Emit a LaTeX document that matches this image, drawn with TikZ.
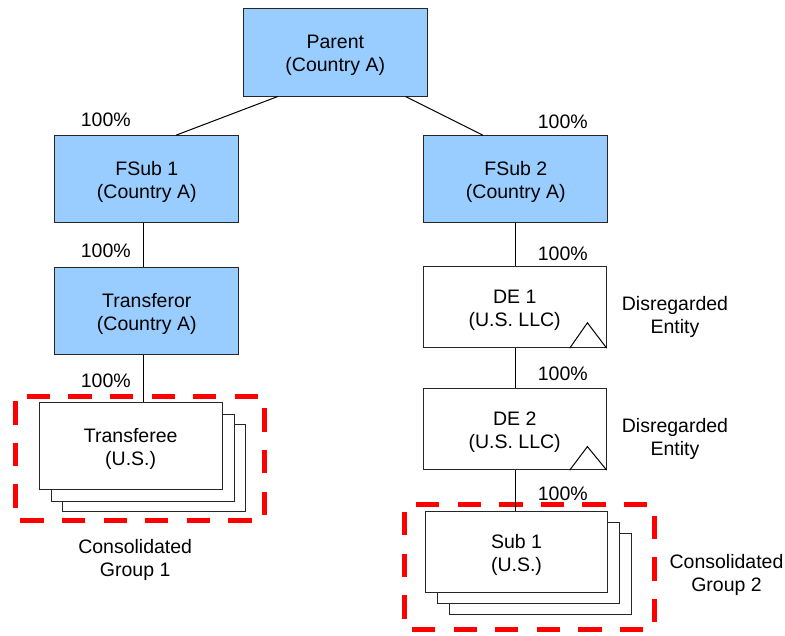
\documentclass[tikz,border=0pt]{standalone}
\usepackage{fontspec}
\setmainfont{Liberation Sans}
\usetikzlibrary{calc}
\definecolor{boxblue}{HTML}{99CCFF}
\newcommand\tstrut{\rule{0pt}{19.2pt}}
\tikzset{
  ent/.style={draw=black!85, line width=1pt, minimum width=184pt, minimum height=87pt, inner sep=0pt, align=center, font=\fontsize{19.5}{23}\selectfont},
  blueent/.style={ent, fill=boxblue},
  whiteent/.style={ent, fill=white},
  deent/.style={whiteent, minimum width=183pt, minimum height=81pt},
  lbl/.style={inner sep=0pt, align=center, font=\fontsize{19.5}{23}\selectfont},
  conn/.style={draw=black, line width=1pt},
  group/.style={draw=red, line width=5pt, dash pattern=on 23.3pt off 18.3pt, dash phase=29.9pt},
  tri/.style={draw=black, line width=1pt}
}
\begin{document}
\begin{tikzpicture}[x=1pt,y=-1pt]
\useasboundingbox (0,0) rectangle (785,635);

% red groups
\draw[group] (15,396) -- (264,396) -- (264,520.7) -- (15,520.7) -- cycle;
\draw[group] (404.3,504.3) -- (654.3,504.3) -- (654.3,629.3) -- (404.3,629.3) -- cycle;

% boxes
\node[blueent, minimum height=88pt] (parent) at (335.3,52) {\tstrut Parent\\(Country A)};
\node[blueent] (fsub1) at (146.8,179.2) {\tstrut FSub 1\\(Country A)};
\node[blueent] (fsub2) at (515.8,179.2) {\tstrut FSub 2\\(Country A)};
\node[blueent] (transferor) at (146.8,311.3) {\tstrut Transferor\\(Country A)};
\node[deent] (de1) at (514.7,307.2) {\tstrut DE 1\\(U.S. LLC)};
\node[deent] (de2) at (514.7,429.2) {\tstrut DE 2\\(U.S. LLC)};

% transferee stack
\node[whiteent, minimum width=183pt] (transfereeC) at (154.2,468.3) {};
\node[whiteent, minimum width=183pt] (transfereeB) at (142.7,458.3) {};
\node[whiteent, minimum width=183pt] (transferee) at (130.7,446.3) {\tstrut Transferee\\(U.S.)};

% sub1 stack
\node[deent, minimum width=182pt] (sub1C) at (540.5,574.2) {};
\node[deent, minimum width=182pt] (sub1B) at (528.5,563.2) {};
\node[deent, minimum width=182pt] (sub1) at (516.5,552.2) {\tstrut Sub 1\\(U.S.)};

% triangles
\draw[tri] ($(de1.south east)+(-37,0)$) -- ($(de1.south east)+(-19.3,-25.4)$) -- (de1.south east);
\draw[tri] ($(de2.south east)+(-37,0)$) -- ($(de2.south east)+(-19.3,-23.6)$) -- (de2.south east);

% connectors
\coordinate (lline) at (143.3,0);
\coordinate (rline) at (515,0);
\draw[conn] ($(parent.south west)+(35,0)$) -- ($(fsub1.north west)+(121.7,0)$);
\draw[conn] ($(parent.south east)+(-22.3,0)$) -- ($(fsub2.north west)+(59.6,0)$);
\draw[conn] (fsub1.south -| lline) -- (transferor.north -| lline);
\draw[conn] (transferor.south -| lline) -- (transferee.north -| lline);
\draw[conn] (fsub2.south -| rline) -- (de1.north -| rline);
\draw[conn] (de1.south -| rline) -- (de2.north -| rline);
\draw[conn] (de2.south -| rline) -- (sub1.north -| rline);

% labels
\node[lbl] (p1) at (105.8,119.5) {100\%};
\node[lbl] (p2) at (562.8,122.2) {100\%};
\node[lbl] (p3) at (105.8,251) {100\%};
\node[lbl] (p4) at (105.8,381) {100\%};
\node[lbl] (p5) at (562.8,254) {100\%};
\node[lbl] (p6) at (562.8,374) {100\%};
\node[lbl] (p7) at (562.8,493.4) {100\%};
\node[lbl] (d1) at (675,317) {Disregarded\\Entity};
\node[lbl] (d2) at (675,438.7) {Disregarded\\Entity};
\node[lbl] (g1) at (135.2,559.5) {Consolidated\\Group 1};
\node[lbl] (g2) at (726.5,575) {Consolidated\\Group 2};
\end{tikzpicture}
\end{document}
